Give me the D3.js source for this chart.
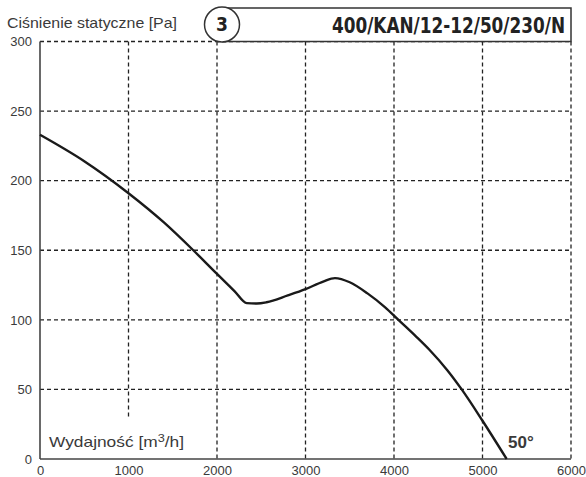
<!DOCTYPE html>
<html lang="pl">
<head>
<meta charset="UTF-8">
<title>400/KAN/12-12/50/230/N</title>
<script src="https://cdnjs.cloudflare.com/ajax/libs/d3/7.8.5/d3.min.js"></script>
<style>
  body { margin: 0; background: #fff; }
  svg { display: block; }
  .lbl { font-family: "Liberation Sans", "DejaVu Sans", sans-serif; fill: #3a3a3a; }
</style>
</head>
<body>
<div id="chart"></div>
<script>
// values
var flow = [0, 500, 1000, 1400, 1732, 2000, 2200, 2336, 2450, 2560, 2800, 3000, 3200, 3333, 3500, 3700, 3900, 4050, 4250, 4400, 4600, 4765, 5000, 5273];
var pressure = [233, 214, 191, 170, 150, 133, 120.5, 112, 111.7, 112.6, 117.5, 122, 127.5, 130, 127, 119, 109, 100, 88, 78.5, 64, 50, 27.5, 0];
var xTicks = [0, 1000, 2000, 3000, 4000, 5000, 6000];
var yTicks = [0, 50, 100, 150, 200, 250, 300];

var W = 586, H = 477;
var x0 = 40, x1 = 571, yTop = 41.5, yBot = 459;

var svg = d3.select("#chart").append("svg")
    .attr("width", W)
    .attr("height", H);

var x = d3.scaleLinear().domain([0, 6000]).range([x0, x1]);
var y = d3.scaleLinear().domain([0, 300]).range([yBot, yTop]);

// dashed grid
var grid = svg.append("g")
    .attr("stroke", "#222")
    .attr("stroke-width", 1.3)
    .attr("stroke-dasharray", "4,3");

grid.selectAll("line.h")
    .data(yTicks.filter(function(d) { return d > 0; }))
    .enter().append("line")
    .attr("x1", x0).attr("x2", x1)
    .attr("y1", function(d) { return y(d); })
    .attr("y2", function(d) { return y(d); });

grid.selectAll("line.v")
    .data(xTicks.filter(function(d) { return d > 0; }))
    .enter().append("line")
    .attr("x1", function(d) { return x(d); })
    .attr("x2", function(d) { return x(d); })
    .attr("y1", yTop)
    .attr("y2", function(d) { return d === 1000 ? y(30) : yBot; });  // 1000 stops above the axis title

// axes, ticks hidden, only labels
var xAxis = svg.append("g")
    .attr("transform", "translate(0," + yBot + ")")
    .call(d3.axisBottom(x).tickValues(xTicks).tickSize(0).tickFormat(d3.format("d")));
var yAxis = svg.append("g")
    .attr("transform", "translate(" + x0 + ",0)")
    .call(d3.axisLeft(y).tickValues(yTicks).tickSize(0).tickPadding(8).tickFormat(d3.format("d")));

[xAxis, yAxis].forEach(function(a) {
    a.select(".domain").remove();
    a.selectAll("text")
        .attr("class", "lbl")
        .attr("font-size", "13px")
        .attr("fill", "#3a3a3a");
});
xAxis.selectAll("text").attr("y", 15.5).attr("dy", 0);

// solid axis lines
svg.append("line")
    .attr("x1", x0).attr("x2", x0).attr("y1", yTop).attr("y2", yBot)
    .attr("stroke", "#444").attr("stroke-width", 1.6);
svg.append("line")
    .attr("x1", x0).attr("x2", x1).attr("y1", yBot).attr("y2", yBot)
    .attr("stroke", "#444").attr("stroke-width", 1.6);

// fan curve
var line = d3.line()
    .x(function(d) { return x(d[0]); })
    .y(function(d) { return y(d[1]); })
    .curve(d3.curveMonotoneX);

svg.append("path")
    .datum(d3.zip(flow, pressure))
    .attr("d", line)
    .attr("fill", "none")
    .attr("stroke", "#1a1a1a")
    .attr("stroke-width", 2.4);

// header box with model name
svg.append("rect")
    .attr("x", 223).attr("y", 8)
    .attr("width", x1 - 223).attr("height", yTop - 8)
    .attr("fill", "#fff")
    .attr("stroke", "#333").attr("stroke-width", 1.5);
svg.append("circle")
    .attr("cx", 222).attr("cy", 24.5).attr("r", 17.5)
    .attr("fill", "#fff")
    .attr("stroke", "#333").attr("stroke-width", 1.5);
svg.append("text")
    .attr("x", 222).attr("y", 31)
    .attr("text-anchor", "middle")
    .attr("font-family", "'Liberation Sans Narrow', 'DejaVu Sans Condensed', sans-serif")
    .attr("font-weight", "bold")
    .attr("font-size", "19px")
    .attr("fill", "#222")
    .text("3");
svg.append("text")
    .attr("x", 332).attr("y", 33)
    .attr("textLength", 233)
    .attr("lengthAdjust", "spacingAndGlyphs")
    .attr("font-family", "'Liberation Sans Narrow', 'DejaVu Sans Condensed', sans-serif")
    .attr("font-weight", "bold")
    .attr("font-size", "21px")
    .attr("fill", "#222")
    .text("400/KAN/12-12/50/230/N");

// axis titles
svg.append("text")
    .attr("class", "lbl")
    .attr("x", 7).attr("y", 28)
    .attr("font-size", "15px")
    .attr("textLength", 170)
    .attr("lengthAdjust", "spacingAndGlyphs")
    .text("Ciśnienie statyczne [Pa]");

var xt = svg.append("text")
    .attr("class", "lbl")
    .attr("x", 49).attr("y", 447)
    .attr("font-size", "15px")
    .attr("textLength", 135)
    .attr("lengthAdjust", "spacingAndGlyphs");
xt.append("tspan").text("Wydajność [m");
xt.append("tspan").attr("dy", -5).attr("font-size", "11px").text("3");
xt.append("tspan").attr("dy", 5).text("/h]");

svg.append("text")
    .attr("class", "lbl")
    .attr("x", 508).attr("y", 448)
    .attr("font-size", "17px")
    .attr("font-weight", "bold")
    .text("50°");
</script>
</body>
</html>
